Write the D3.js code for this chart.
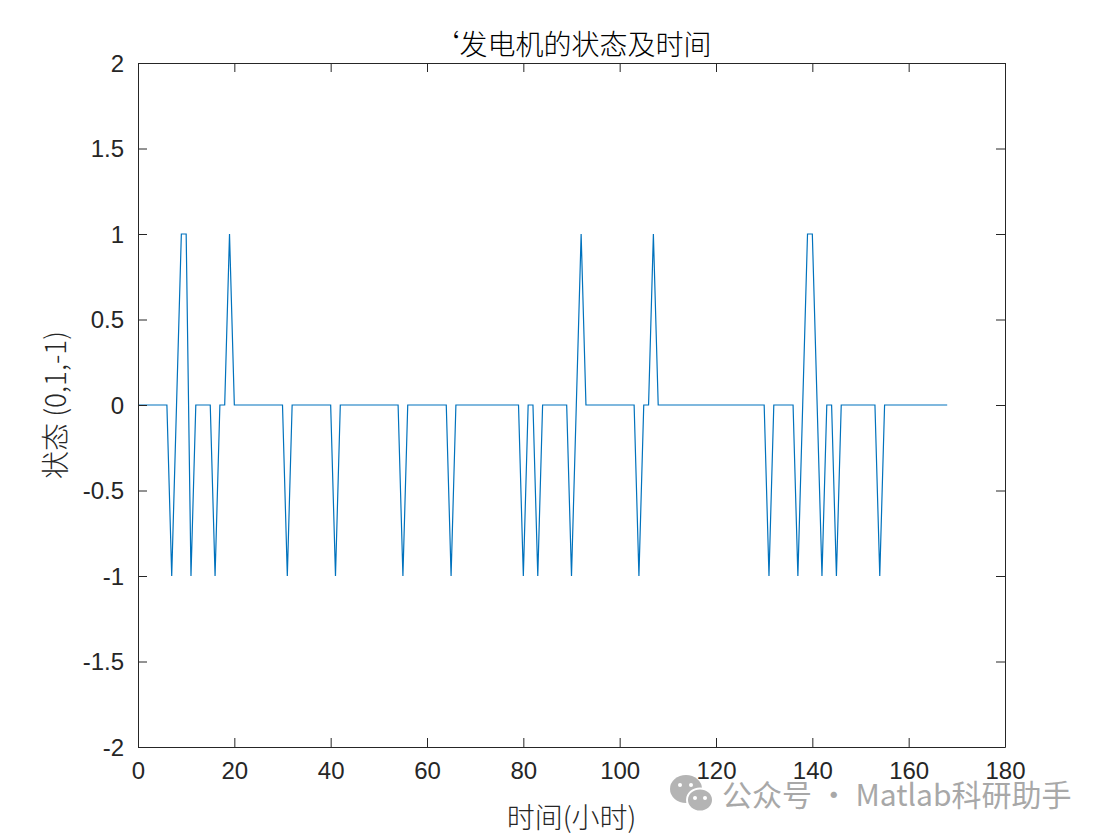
<!DOCTYPE html>
<html>
<head>
<meta charset="utf-8">
<script src="https://cdn.jsdelivr.net/npm/d3@7"></script>
<style>
  body { margin: 0; background: #fff; }
  svg text { font-family: "Liberation Sans", Arial, sans-serif; fill: #262626; }
  .cjk { font-family: "Noto Sans CJK SC", "Liberation Sans", sans-serif; font-weight: 300; }
</style>
</head>
<body>
<div id="chart"></div>
<script>
// generator state per hour (0..168)
const states = [
  0, 0, 0, 0, 0, 0, 0, -1, 0, 1,
  1, -1, 0, 0, 0, 0, -1, 0, 0, 1,
  0, 0, 0, 0, 0, 0, 0, 0, 0, 0,
  0, -1, 0, 0, 0, 0, 0, 0, 0, 0,
  0, -1, 0, 0, 0, 0, 0, 0, 0, 0,
  0, 0, 0, 0, 0, -1, 0, 0, 0, 0,
  0, 0, 0, 0, 0, -1, 0, 0, 0, 0,
  0, 0, 0, 0, 0, 0, 0, 0, 0, 0,
  -1, 0, 0, -1, 0, 0, 0, 0, 0, 0,
  -1, 0, 1, 0, 0, 0, 0, 0, 0, 0,
  0, 0, 0, 0, -1, 0, 0, 1, 0, 0,
  0, 0, 0, 0, 0, 0, 0, 0, 0, 0,
  0, 0, 0, 0, 0, 0, 0, 0, 0, 0,
  0, -1, 0, 0, 0, 0, 0, -1, 0, 1,
  1, 0, -1, 0, 0, -1, 0, 0, 0, 0,
  0, 0, 0, 0, -1, 0, 0, 0, 0, 0,
  0, 0, 0, 0, 0, 0, 0, 0, 0
];
const xTicks = [0, 20, 40, 60, 80, 100, 120, 140, 160, 180];
const yTicks = [-2, -1.5, -1, -0.5, 0, 0.5, 1, 1.5, 2];

const titleText = '‘发电机的状态及时间';
const xLabel = '时间(小时)';
const yLabel = '状态 (0,1,-1)';
const watermark = '公众号 · Matlab科研助手';

function chart(selector) {
    let margin = { top: 63, left: 138, right: 104, bottom: 91 };
    let width = 1109 - margin.left - margin.right;
    let height = 838 - margin.top - margin.bottom;
    let tickLen = 9;

    let svg = d3.select(selector)
        .append('svg')
        .attr('width', 1109)
        .attr('height', 838);

    let g = svg.append('g')
        .attr('transform', `translate(${margin.left},${margin.top})`);

    const xScale = d3.scaleLinear().domain([0, 180]).range([0, width]);
    const yScale = d3.scaleLinear().domain([-2, 2]).range([height, 0]);

    // data line
    const line = d3.line()
        .x((d, i) => xScale(i))
        .y(d => yScale(d));

    g.append('path')
        .datum(states)
        .attr('fill', 'none')
        .attr('stroke', '#0072BD')
        .attr('stroke-width', 1.2)
        .attr('d', line);

    // axes (MATLAB style: inward ticks, box on)
    const fmt = d => String(d);
    const xAxis = d3.axisBottom(xScale).tickValues(xTicks).tickSizeInner(-tickLen).tickSizeOuter(0).tickPadding(14).tickFormat(fmt);
    const xTop = d3.axisTop(xScale).tickValues(xTicks).tickSizeInner(-tickLen).tickSizeOuter(0).tickFormat('');
    const yAxis = d3.axisLeft(yScale).tickValues(yTicks).tickSizeInner(-tickLen).tickSizeOuter(0).tickPadding(14).tickFormat(fmt);
    const yRight = d3.axisRight(yScale).tickValues(yTicks).tickSizeInner(-tickLen).tickSizeOuter(0).tickFormat('');

    const gx = g.append('g').attr('transform', `translate(0,${height})`).call(xAxis);
    const gxt = g.append('g').call(xTop);
    const gy = g.append('g').call(yAxis);
    const gyr = g.append('g').attr('transform', `translate(${width},0)`).call(yRight);

    [gx, gxt, gy, gyr].forEach(a => {
        a.select('.domain').attr('stroke', '#262626').attr('stroke-width', 1);
        a.selectAll('.tick line').attr('stroke', '#262626');
        a.selectAll('.tick text').style('font-size', '24px').attr('fill', '#262626');
    });
    gy.selectAll('.tick text').attr('dy', '0.35em');
    gx.selectAll('.tick text').attr('dy', '0.75em');

    // title
    svg.append('text')
        .attr('class', 'cjk')
        .attr('x', margin.left + width / 2)
        .attr('y', 55)
        .attr('text-anchor', 'middle')
        .style('font-size', '28px')
        .style('fill', '#000')
        .text(titleText);

    // x label
    svg.append('text')
        .attr('class', 'cjk')
        .attr('x', margin.left + width / 2)
        .attr('y', 828)
        .attr('text-anchor', 'middle')
        .style('font-size', '28px')
        .text(xLabel);

    // y label
    svg.append('text')
        .attr('class', 'cjk')
        .attr('transform', `translate(66,${margin.top + height / 2}) rotate(-90)`)
        .attr('text-anchor', 'middle')
        .style('font-size', '28px')
        .text(yLabel);

    // watermark (wechat-style icon + text)
    let wm = svg.append('g');
    wm.append('ellipse').attr('cx', 686).attr('cy', 789).attr('rx', 16).attr('ry', 14).attr('fill', '#b4b4b4');
    wm.append('ellipse').attr('cx', 700).attr('cy', 800).attr('rx', 13).attr('ry', 11.5).attr('fill', '#b4b4b4').attr('stroke', '#fff').attr('stroke-width', 2);
    [[680, 785], [691, 785], [695, 798], [705, 798]].forEach(p => {
        wm.append('circle').attr('cx', p[0]).attr('cy', p[1]).attr('r', 2).attr('fill', '#fff');
    });
    wm.append('text')
        .attr('class', 'cjk')
        .attr('x', 722)
        .attr('y', 806)
        .style('font-size', '30px')
        .style('font-weight', 400)
        .style('fill', '#a8a8a8')
        .text(watermark);

    return chart;
}

chart('#chart');
</script>
</body>
</html>
